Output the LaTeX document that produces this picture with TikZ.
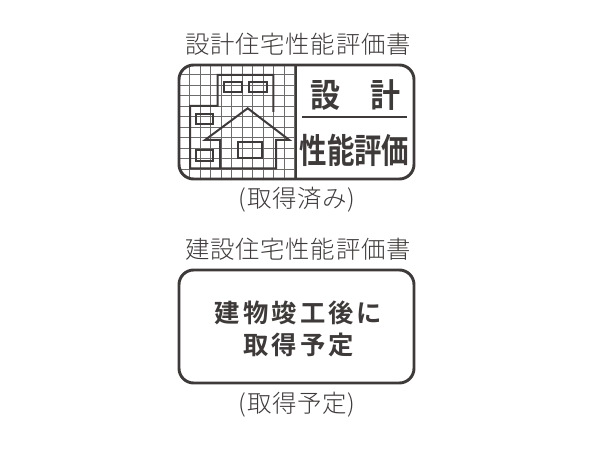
\documentclass[tikz,border=0pt]{standalone}
\usepackage{fontspec}
\setmainfont{Noto Sans CJK JP}[BoldFont={Noto Sans CJK JP Bold}]
\definecolor{inkgray}{HTML}{3E3A39}
\newfontfamily\titlefont{Noto Sans CJK JP Light}[LetterSpace=3]
\newfontfamily\heavyfont{Noto Sans CJK JP Bold}[LetterSpace=12]
\newfontfamily\plainheavy{Noto Sans CJK JP Bold}
\tikzset{
  caption/.style={text=inkgray,inner sep=0pt,font=\titlefont\fontsize{18.3}{20}\selectfont},
  badge/.style={text=inkgray,inner sep=0pt,font=\plainheavy\fontsize{22.5}{26}\selectfont},
  notice/.style={text=inkgray,inner sep=0pt,font=\heavyfont\fontsize{19}{22}\selectfont},
  frame/.style={draw=inkgray,line width=2.2pt,rounded corners=11pt},
  plan/.style={draw=inkgray,line width=1.5pt},
  gridline/.style={draw=inkgray!75,line width=0.4pt}
}
\begin{document}
\begin{tikzpicture}[x=0.75pt,y=-0.75pt]
      \useasboundingbox (0,0) rectangle (600,449);
      \begin{scope}
        \clip[rounded corners=11pt] (179,65) rectangle (414,179);
        \foreach \gx in {0,...,10}
          \draw[gridline] ({189.3+\gx*10.52},65) -- ({189.3+\gx*10.52},179);
        \foreach \gy in {0,...,10}
          \draw[gridline] (179,{74.5+\gy*10.52}) -- (296,{74.5+\gy*10.52});
      \end{scope}
      \draw[frame] (179,65) rectangle (414,179);
      \draw[inkgray,line width=1.5pt] (296,65) -- (296,179);
      \draw[plan] (273.3,112) -- (273.3,75) -- (217.7,75) -- (217.7,106) -- (190,106) -- (190,168.3) -- (276,168.3) -- (276,140) -- (289.3,140) -- (247.7,108.3) -- (205,140) -- (220,140) -- (220,168.3);
      \draw[plan] (224.3,81.7) rectangle (241.7,91.7);
      \draw[plan] (249,81.7) rectangle (266.7,91.7);
      \draw[plan] (196,114) rectangle (213.3,124);
      \draw[plan] (196,150) rectangle (213.3,160.7);
      \draw[plan] (237.7,142.3) rectangle (262.3,158.3);
      \draw[inkgray,line width=1.5pt] (302,117) -- (407,117);
      \node[caption] (title1) at (298,44) {設計住宅性能評価書};
      \node[badge,yscale=1.1] (design1) at (325,95) {設};
      \node[badge,yscale=1.1] (design2) at (385,95) {計};
      \node[badge,font=\plainheavy\fontsize{20.6}{24}\selectfont,yscale=1.25] (grade) at (354.5,150.5) {性能評価};
      \node[caption] (status1) at (297,200) {(取得済み)};
      \node[caption] (title2) at (298,249) {建設住宅性能評価書};
      \draw[frame] (179,270) rectangle (414,383);
      \node[notice] (note1) at (298.5,313) {建物竣工後に};
      \node[notice] (note2) at (298.5,345) {取得予定};
      \node[caption] (status2) at (297,405) {(取得予定)};
    \end{tikzpicture}
\end{document}
